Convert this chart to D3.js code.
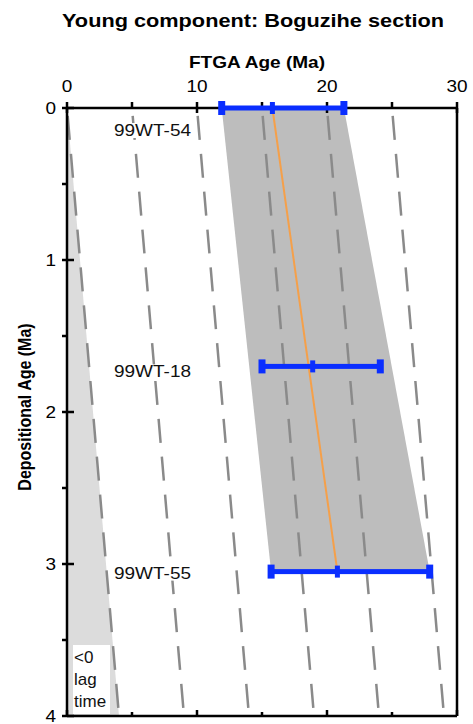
<!DOCTYPE html>
<html>
<head>
<meta charset="utf-8">
<script src="https://cdn.jsdelivr.net/npm/d3@7"></script>
<style>
  body { margin: 0; background: #fff; }
  text { font-family: "Liberation Sans", Arial, Helvetica, sans-serif; }
</style>
</head>
<body>
<div id="chart"></div>
<script>
// sample data
var samples = ['99WT-54', '99WT-18', '99WT-55'];
var depAge = [0, 1.7, 3.05];          // depositional age (Ma)
var ftgaAge = [15.8, 18.9, 20.8];     // central FTGA age (Ma)
var ftgaLow = [11.9, 15.0, 15.7];
var ftgaHigh = [21.3, 24.1, 27.9];

// lag time contours (Ma)
var lagLines = [0, 5, 10, 15, 20, 25];

// fitted trend through the young component
var fitDep = [0, 3.05];
var fitAge = [15.8, 20.8];

var xTicks = [0, 5, 10, 15, 20, 25, 30],
  xLabels = [0, 10, 20, 30],
  yTicks = [0, 0.5, 1, 1.5, 2, 2.5, 3, 3.5, 4],
  yLabels = [0, 1, 2, 3, 4];

var width = 473,
  height = 724;

var svg = d3.select('#chart')
  .append('svg')
  .attr('width', width)
  .attr('height', height);

var x = d3.scaleLinear().domain([0, 30]).range([67, 457]);
var y = d3.scaleLinear().domain([0, 4]).range([108, 716]);

// <0 lag time region
svg.append('path')
  .attr('d', d3.line()([[x(0), y(0)], [x(0), y(4)], [x(4), y(4)]]))
  .attr('fill', '#dcdcdc');

// band between the youngest and oldest error limits
var band = [
  [x(ftgaLow[0]), y(depAge[0])],
  [x(ftgaHigh[0]), y(depAge[0])],
  [x(ftgaHigh[2]), y(depAge[2])],
  [x(ftgaLow[2]), y(depAge[2])]
];
svg.append('path')
  .attr('d', d3.line()(band) + 'Z')
  .attr('fill', '#bdbdbd');

// lag time lines
svg.selectAll('.lag')
  .data(lagLines)
  .enter().append('line')
  .attr('class', 'lag')
  .attr('x1', function (d) { return x(d); })
  .attr('y1', y(0))
  .attr('x2', function (d) { return x(d + 4); })
  .attr('y2', y(4))
  .attr('stroke', '#8a8a8a')
  .attr('stroke-width', 2.5)
  .attr('stroke-dasharray', '24,14')
  .attr('stroke-dashoffset', -8);

// sample labels with white boxes
var labelY = [y(0) + 28, y(depAge[1]) + 11, y(depAge[2]) + 7];
samples.forEach(function (s, i) {
  var t = svg.append('text')
    .attr('x', 114)
    .attr('y', labelY[i])
    .attr('font-size', 17)
    .attr('textLength', 77)
    .attr('lengthAdjust', 'spacingAndGlyphs')
    .attr('fill', '#111')
    .text(s);
  var bb = t.node().getBBox();
  svg.insert('rect', function () { return t.node(); })
    .attr('x', bb.x - 1)
    .attr('y', bb.y + 2)
    .attr('width', bb.width + 2)
    .attr('height', bb.height - 4)
    .attr('fill', '#fff');
});

// "<0 lag time" box
svg.append('rect')
  .attr('x', 73).attr('y', 645)
  .attr('width', 37).attr('height', 69)
  .attr('fill', '#fff');
['<0', 'lag', 'time'].forEach(function (s, i) {
  svg.append('text')
    .attr('x', 74)
    .attr('y', 663 + i * 22)
    .attr('font-size', 17)
    .attr('fill', '#111')
    .text(s);
});

// fitted trend
svg.append('line')
  .attr('x1', x(fitAge[0])).attr('y1', y(fitDep[0]))
  .attr('x2', x(fitAge[1])).attr('y2', y(fitDep[1]))
  .attr('stroke', '#f5a04a')
  .attr('stroke-width', 2);

// frame
var frame = svg.append('g')
  .attr('stroke', '#000')
  .attr('stroke-width', 2.5);
frame.append('line').attr('x1', x(0)).attr('x2', x(30)).attr('y1', y(0)).attr('y2', y(0));
frame.append('line').attr('x1', x(0)).attr('x2', x(30)).attr('y1', y(4)).attr('y2', y(4));
frame.append('line').attr('x1', x(0)).attr('x2', x(0)).attr('y1', y(0)).attr('y2', y(4));
frame.append('line').attr('x1', x(30)).attr('x2', x(30)).attr('y1', y(0)).attr('y2', y(4));

// ticks
xTicks.forEach(function (d) {
  var major = xLabels.indexOf(d) >= 0;
  frame.append('line')
    .attr('x1', x(d)).attr('x2', x(d))
    .attr('y1', y(0) - 6).attr('y2', y(0) + (major ? 5 : 0));
  frame.append('line')
    .attr('x1', x(d)).attr('x2', x(d))
    .attr('y1', y(4)).attr('y2', y(4) - (major ? 6 : 4));
});
yTicks.forEach(function (d) {
  var major = yLabels.indexOf(d) >= 0;
  frame.append('line')
    .attr('x1', x(0) - 5).attr('x2', x(0) + (major ? 7 : 0))
    .attr('y1', y(d)).attr('y2', y(d));
});

svg.selectAll('.xlab')
  .data(xLabels)
  .enter().append('text')
  .attr('transform', function (d) { return 'translate(' + x(d) + ',92) scale(1.15,1)'; })
  .attr('text-anchor', 'middle')
  .attr('font-size', 16.5)
  .text(function (d) { return d; });

svg.selectAll('.ylab')
  .data(yLabels)
  .enter().append('text')
  .attr('transform', function (d) { return 'translate(56,' + (y(d) + 6) + ') scale(1.15,1)'; })
  .attr('text-anchor', 'end')
  .attr('font-size', 16.5)
  .text(function (d) { return d; });

// error bars
var bars = svg.append('g').attr('fill', '#0a2eff');
samples.forEach(function (s, i) {
  var yy = y(depAge[i]);
  bars.append('rect')
    .attr('x', x(ftgaLow[i])).attr('y', yy - 2.5)
    .attr('width', x(ftgaHigh[i]) - x(ftgaLow[i])).attr('height', 5);
  [ftgaLow[i], ftgaHigh[i]].forEach(function (v) {
    bars.append('rect')
      .attr('x', x(v) - 3.5).attr('y', yy - 7)
      .attr('width', 7).attr('height', 14);
  });
  bars.append('rect')
    .attr('x', x(ftgaAge[i]) - 2.5).attr('y', yy - 6)
    .attr('width', 5).attr('height', 12);
});

// titles
svg.append('text')
  .attr('x', 253)
  .attr('y', 27)
  .attr('text-anchor', 'middle')
  .attr('font-size', 18)
  .attr('font-weight', 'bold')
  .attr('textLength', 382)
  .attr('lengthAdjust', 'spacingAndGlyphs')
  .text('Young component: Boguzihe section');

svg.append('text')
  .attr('x', 257)
  .attr('y', 68)
  .attr('text-anchor', 'middle')
  .attr('font-size', 17)
  .attr('font-weight', 'bold')
  .attr('textLength', 136)
  .attr('lengthAdjust', 'spacingAndGlyphs')
  .text('FTGA Age (Ma)');

svg.append('text')
  .attr('transform', 'translate(31,' + (y(2) - 5) + ') rotate(-90) scale(1,1.2)')
  .attr('text-anchor', 'middle')
  .attr('font-size', 16)
  .attr('font-weight', 'bold')
  .text('Depositional Age (Ma)');
</script>
</body>
</html>
